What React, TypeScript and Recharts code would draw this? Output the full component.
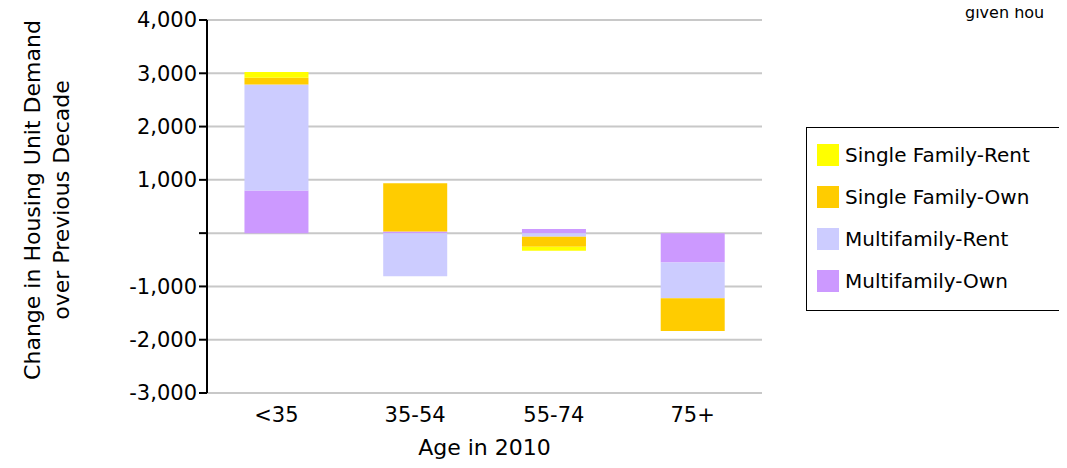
import React from 'react';
import { BarChart, Bar, XAxis, YAxis, CartesianGrid, Label } from 'recharts';

const categories = ['<35', '35-54', '55-74', '75+'];
const multifamilyOwn = [800, 30, 80, -550];
const multifamilyRent = [1990, -810, -70, -670];
const singleFamilyOwn = [125, 905, -185, -615];
const singleFamilyRent = [110, 0, -75, 0];
const yTicks = [-3000, -2000, -1000, 0, 1000, 2000, 3000, 4000];

const data = categories.map((c, i) => ({
  cat: c,
  mo: multifamilyOwn[i],
  mr: multifamilyRent[i],
  sfo: singleFamilyOwn[i],
  sfr: singleFamilyRent[i],
}));

const font = "'DejaVu Sans', sans-serif";
const fmt = (v: number) => (v === 0 ? '' : v.toLocaleString('en-US'));

const legendItems = [
  { name: 'Single Family-Rent', color: '#FFFF00' },
  { name: 'Single Family-Own', color: '#FFCC00' },
  { name: 'Multifamily-Rent', color: '#CCCCFF' },
  { name: 'Multifamily-Own', color: '#CC99FF' },
];

export default function App() {
  return (
    <div style={{ position: 'relative', width: 1067, height: 468, margin: -8, overflow: 'hidden', background: '#fff', fontFamily: font }}>
      <BarChart width={1067} height={468} data={data} stackOffset="sign" margin={{ top: 20, right: 305, bottom: 35, left: 0 }} barCategoryGap="27%">
        <CartesianGrid vertical={false} stroke="#c8c8c8" strokeWidth={2} />
        <XAxis dataKey="cat" height={40} axisLine={false} tickLine={false} tick={{ fill: '#000', fontSize: 21, fontFamily: font }} tickMargin={8}>
          <Label value="Age in 2010" position="insideBottom" offset={-22} style={{ fill: '#000', fontSize: 22, fontFamily: font }} />
        </XAxis>
        <YAxis width={207} domain={[-3000, 4000]} ticks={yTicks} tickFormatter={fmt} interval={0}
          axisLine={{ stroke: '#000', strokeWidth: 2 }} tickLine={{ stroke: '#000', strokeWidth: 2 }} tickSize={8}
          tick={{ fill: '#000', fontSize: 21, fontFamily: font }} />
        <Bar dataKey="mo" stackId="a" fill="#CC99FF" isAnimationActive={false} />
        <Bar dataKey="mr" stackId="a" fill="#CCCCFF" isAnimationActive={false} />
        <Bar dataKey="sfo" stackId="a" fill="#FFCC00" isAnimationActive={false} />
        <Bar dataKey="sfr" stackId="a" fill="#FFFF00" isAnimationActive={false} />
      </BarChart>
      <div style={{ position: 'absolute', left: 47, top: 200, transform: 'translate(-50%,-50%) rotate(-90deg)', whiteSpace: 'nowrap', textAlign: 'center', fontSize: 22, lineHeight: '29px' }}>
        Change in Housing Unit Demand<br />over Previous Decade
      </div>
      <div style={{ position: 'absolute', left: 965, top: 2, fontSize: 16, whiteSpace: 'nowrap', lineHeight: '22px' }}>given hou</div>
      <div style={{ position: 'absolute', left: 806, top: 127, width: 300, height: 184, border: '1px solid #000', boxSizing: 'border-box' }}>
        {legendItems.map((it, i) => (
          <div key={it.name} style={{ position: 'absolute', left: 10, top: 15 + i * 42, display: 'flex', alignItems: 'center', fontSize: 20, whiteSpace: 'nowrap' }}>
            <span style={{ display: 'inline-block', width: 22, height: 22, background: it.color, marginRight: 6 }} />
            {it.name}
          </div>
        ))}
      </div>
    </div>
  );
}
